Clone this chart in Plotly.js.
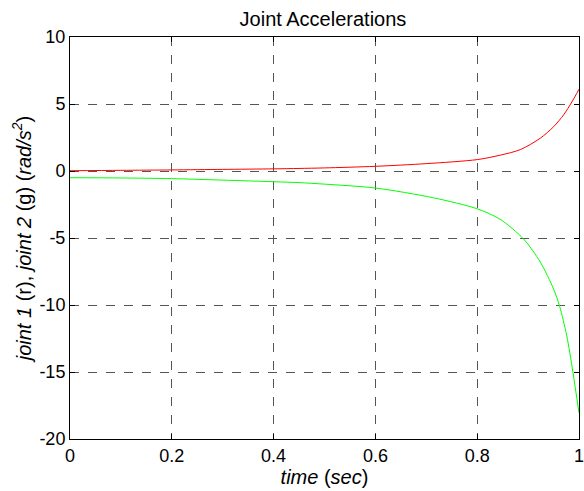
<!DOCTYPE html>
<html>
<head>
<meta charset="utf-8">
<script src="https://cdn.plot.ly/plotly-3.0.1.min.js"></script>
<style>
  html, body { margin: 0; padding: 0; background: #ffffff; }
  #chart { width: 584px; height: 491px; }
</style>
</head>
<body>
<div id="chart"></div>
<script>
// Sample times (sec) and joint accelerations (rad/s^2)
const timeJ1 = [0, 0.1, 0.2, 0.3, 0.4, 0.45, 0.5, 0.6, 0.7, 0.8, 0.845, 0.885, 0.924, 0.95, 0.97, 0.986, 1.0];
const accelJ1 = [0.02, 0.05, 0.08, 0.12, 0.16, 0.19, 0.23, 0.35, 0.55, 0.85, 1.18, 1.6, 2.45, 3.3, 4.2, 5.15, 6.1];

const timeJ2 = [0, 0.1, 0.2, 0.3, 0.4, 0.452, 0.5, 0.6, 0.714, 0.8, 0.845, 0.891, 0.924, 0.95, 0.962, 0.976, 0.988, 1.0];
const accelJ2 = [-0.5, -0.52, -0.57, -0.68, -0.8, -0.87, -0.98, -1.27, -2.0, -2.82, -3.6, -5.07, -6.8, -8.8, -10.1, -12.3, -15.0, -18.05];

const xTicks = [0, 0.2, 0.4, 0.6, 0.8, 1];
const xTickText = ['0', '0.2', '0.4', '0.6', '0.8', '1'];
const yTicks = [-20, -15, -10, -5, 0, 5, 10];
const yTickText = ['-20', '-15', '-10', '-5', '0', '5', '10'];

const font = { family: 'Arial, "Liberation Sans", sans-serif', color: '#000000' };

const traces = [
  { x: timeJ1, y: accelJ1, mode: 'lines', line: { color: '#ff0000', width: 1, shape: 'spline', smoothing: 0.8 }, hoverinfo: 'skip' },
  { x: timeJ2, y: accelJ2, mode: 'lines', line: { color: '#00ff00', width: 1, shape: 'spline', smoothing: 0.8 }, hoverinfo: 'skip' }
];

const axisCommon = {
  showline: true, linecolor: '#000000', linewidth: 1, mirror: 'ticks',
  ticks: 'inside', ticklen: 5, tickcolor: '#000000', tickwidth: 1,
  showgrid: true, gridcolor: '#555555', gridwidth: 1, griddash: 'dash',
  zeroline: false, ticklabeloverflow: 'allow',
  tickfont: Object.assign({ size: 18 }, font)
};

const layout = {
  width: 584, height: 491,
  margin: { l: 70, r: 5, t: 37, b: 52 },
  paper_bgcolor: '#ffffff', plot_bgcolor: '#ffffff',
  showlegend: false,
  title: { text: 'Joint Accelerations', font: Object.assign({ size: 20 }, font), x: 0.553, xanchor: 'center', y: 0.962, yanchor: 'middle' },
  xaxis: Object.assign({}, axisCommon, {
    range: [0, 1], tickvals: xTicks, ticktext: xTickText,
    title: { text: '<i>time</i> (<i>sec</i>)', font: Object.assign({ size: 20 }, font), standoff: 0 }
  }),
  yaxis: Object.assign({}, axisCommon, {
    range: [-20, 10], tickvals: yTicks, ticktext: yTickText,
    title: { text: '<i>joint 1</i> (r), <i>joint 2</i> (g) (<i>rad/s<sup>2</sup></i>)', font: Object.assign({ size: 20 }, font), standoff: 2 }
  })
};

Plotly.newPlot('chart', traces, layout, { displayModeBar: false, staticPlot: true });
</script>
</body>
</html>
